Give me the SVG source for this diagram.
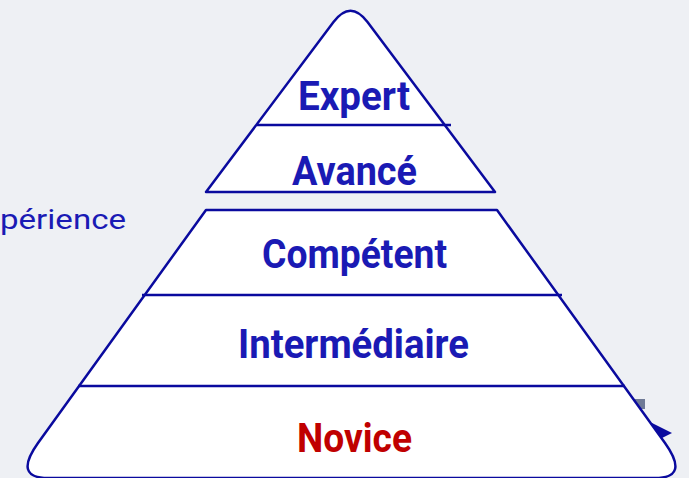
<svg xmlns="http://www.w3.org/2000/svg" width="689" height="478" viewBox="0 0 689 478">
<style>
.shape{fill:#ffffff;stroke:#0a0a9e;stroke-width:2.5;stroke-linejoin:round}
.sep{stroke:#0a0a9e;stroke-width:2.5;fill:none}
.lbl{font-family:Roboto,"Liberation Sans",sans-serif;font-weight:bold;font-size:40px;fill:#1a1ab4;text-anchor:middle}
.axis{font-family:Roboto,"Liberation Sans",sans-serif;font-size:27px;fill:#1a1ab4}
</style>
<rect width="689" height="478" fill="#eef0f4"/>
<g id="axis">
<text class="axis" x="0" y="229" textLength="126" lengthAdjust="spacingAndGlyphs">périence</text>
<rect x="632" y="399" width="13" height="10" fill="#6f7a96"/>
<polygon points="652,423 672,433 652,443" fill="#0a0a9e"/>
</g>
<g id="lower">
<path class="shape" d="M206,210 L497,210 L665,443 Q690,478 655,478 L48,478 Q13,478 38,443 Z"/>
</g>
<g id="upper">
<path class="shape" d="M206,192 L333.5,22 Q350.5,-0.7 367.5,22 L495,192 Z"/>
</g>
<g id="connectors">
<line class="sep" x1="257" y1="125" x2="451" y2="125"/>
<line class="sep" x1="142" y1="295" x2="562" y2="295"/>
<line class="sep" x1="78" y1="386" x2="625" y2="386"/>
</g>
<g id="expert"><text class="lbl" x="354" y="110" textLength="112" lengthAdjust="spacingAndGlyphs">Expert</text></g>
<g id="avance"><text class="lbl" x="354.5" y="185" textLength="125" lengthAdjust="spacingAndGlyphs">Avancé</text></g>
<g id="competent"><text class="lbl" x="354.5" y="268" textLength="185" lengthAdjust="spacingAndGlyphs">Compétent</text></g>
<g id="intermediaire"><text class="lbl" x="353.5" y="358" textLength="231" lengthAdjust="spacingAndGlyphs">Intermédiaire</text></g>
<g id="novice"><text class="lbl" x="354.5" y="452" textLength="115" lengthAdjust="spacingAndGlyphs" style="fill:#c00000">Novice</text></g>
</svg>
